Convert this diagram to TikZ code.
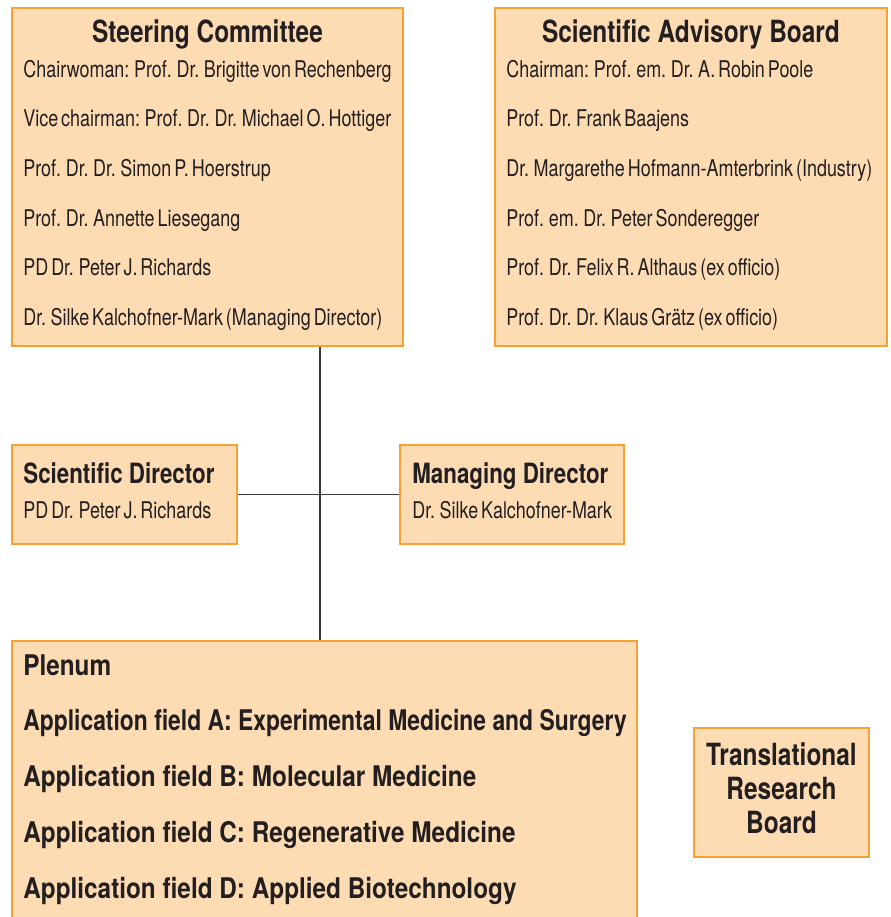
\documentclass[tikz,border=0pt]{standalone}
\usepackage{fontspec}
\setmainfont{TeX Gyre Heros}[FakeStretch=0.8]
\newfontfamily\namefont{TeX Gyre Heros}[FakeStretch=0.78, WordSpace=0.6]
\newfontfamily\fieldfont{TeX Gyre Heros}[FakeStretch=0.855]
\usetikzlibrary{fit}

\definecolor{boxfill}{HTML}{FDDBB3}
\definecolor{boxline}{HTML}{F7A033}
\definecolor{ink}{HTML}{231F20}
\definecolor{wire}{HTML}{3A3A3A}

\tikzset{
  panel/.style={draw=boxline, line width=1.1pt, fill=boxfill, inner sep=0pt},
  head/.style={font=\fontsize{17.4}{20}\selectfont\bfseries, text=ink, inner sep=0pt},
  subhead/.style={font=\fontsize{15.9}{19}\selectfont\bfseries, text=ink, inner sep=0pt},
  member/.style={font=\namefont\fontsize{13.1}{16}\selectfont, text=ink, inner sep=0pt, anchor=base west},
  field/.style={font=\fieldfont\fontsize{16.2}{19}\selectfont\bfseries, text=ink, inner sep=0pt, anchor=base west},
  link/.style={draw=wire, line width=0.85pt}
}

\begin{document}
\begin{tikzpicture}[x=0.02cm, y=-0.02cm]
  \useasboundingbox (0,0) rectangle (890,917);

  % boxes
  \node[panel, fit={(12,8) (403,346)}] (sc) {};
  \node[panel, fit={(495,8) (887,346)}] (sab) {};
  \node[panel, fit={(12,445) (237,544)}] (sd) {};
  \node[panel, fit={(400,445) (624,544)}] (md) {};
  \node[panel, fit={(12,641) (637,940)}] (plenum) {};
  \node[panel, fit={(694,728) (869,857)}] (trb) {};

  % lines between the boxes
  \coordinate (spine) at (320,493);
  \draw[link] (sc.south -| spine) -- (plenum.north -| spine);
  \draw[link] (sd.east) -- (md.west);

  % Steering Committee
  \node[head, anchor=base] (sc-title) at (207.5,42) {Steering Committee};
  \foreach \who [count=\i from 0] in {
      {Chairwoman: Prof. Dr. Brigitte von Rechenberg},
      {Vice chairman: Prof. Dr. Dr. Michael O. Hottiger},
      {Prof. Dr. Dr. Simon P. Hoerstrup},
      {Prof. Dr. Annette Liesegang},
      {PD Dr. Peter J. Richards},
      {Dr. Silke Kalchofner-Mark (Managing Director)}}
    \node[member] (sc-\i) at (23,{77+49.7*\i}) {\who};

  % Scientific Advisory Board
  \node[head, anchor=base] (sab-title) at (691,42) {Scientific Advisory Board};
  \foreach \who [count=\i from 0] in {
      {Chairman: Prof. em. Dr. A. Robin Poole},
      {Prof. Dr. Frank Baajens},
      {Dr. Margarethe Hofmann-Amterbrink (Industry)},
      {Prof. em. Dr. Peter Sonderegger},
      {Prof. Dr. Felix R. Althaus (ex officio)},
      {Prof. Dr. Dr. Klaus Grätz (ex officio)}}
    \node[member] (sab-\i) at (506,{77+49.7*\i}) {\who};

  % directors
  \node[subhead, anchor=base west] (sd-title) at (23,483) {Scientific Director};
  \node[member] (sd-name) at (23,518) {PD Dr. Peter J. Richards};
  \node[subhead, anchor=base west] (md-title) at (412,483) {Managing Director};
  \node[member] (md-name) at (412,518) {Dr. Silke Kalchofner-Mark};

  % Plenum (field A is set a little tighter to fit the box)
  \foreach \txt [count=\i from 0] in {
      {Plenum},
      {\scalebox{0.94}[1]{Application field A: Experimental Medicine and Surgery}},
      {Application field B: Molecular Medicine},
      {Application field C: Regenerative Medicine},
      {Application field D: Applied Biotechnology}}
    \node[field] (pl-\i) at (23,{675+55.8*\i}) {\txt};

  % Translational Research Board
  \foreach \txt [count=\i from 0] in {Translational, Research, Board}
    \node[head, anchor=base] (trb-\i) at (781.5,{765+34*\i}) {\txt};
\end{tikzpicture}
\end{document}
